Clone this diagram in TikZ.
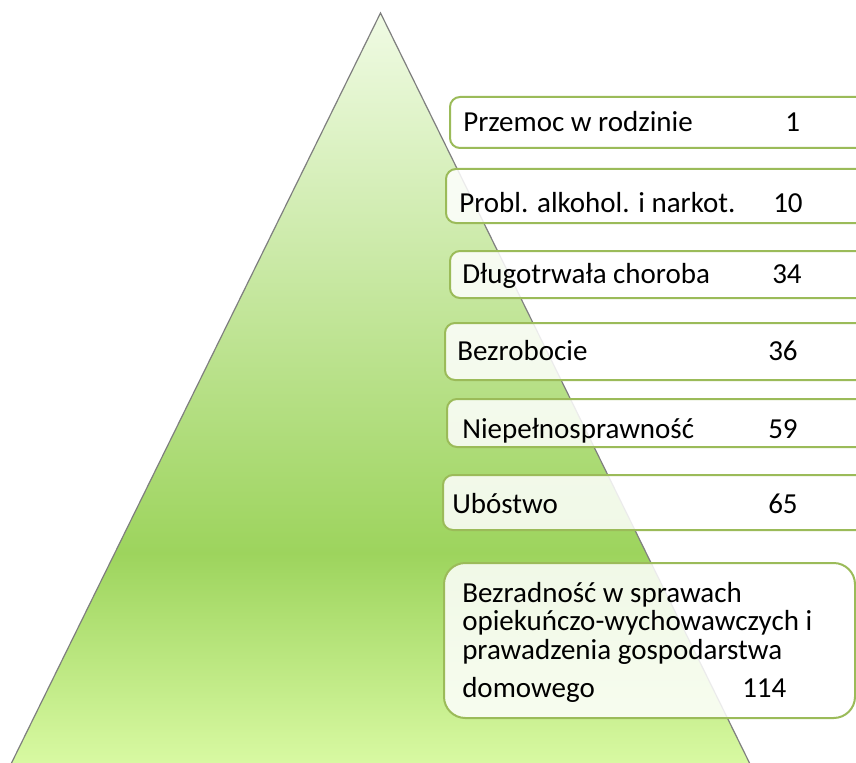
\documentclass[tikz,border=0pt]{standalone}
\usepackage{fontspec}
\setmainfont{Carlito}
\usepackage{tikz}
\usetikzlibrary{fit}
\definecolor{pyrtop}{HTML}{F0FBE4}
\definecolor{pyrmid}{HTML}{9DD45D}
\definecolor{pyrbot}{HTML}{D8F9A2}
\definecolor{boxgreen}{HTML}{9BBB59}
\definecolor{edgegray}{HTML}{7F7F7F}
\pgfdeclareverticalshading{pyramid}{100bp}{color(0bp)=(pyrbot); color(25bp)=(pyrbot); color(39bp)=(pyrmid); color(75bp)=(pyrtop); color(100bp)=(pyrtop)}
\pgfdeclarelayer{nodelayer}
\pgfdeclarelayer{edgelayer}
\pgfsetlayers{edgelayer,nodelayer,main}
\tikzstyle{none}=[inner sep=0pt]
\tikzset{box/.style={draw=boxgreen, line width=1.5pt, fill=white, fill opacity=0.85,
rounded corners=7.5pt, inner sep=0pt}}
\tikzset{bigbox/.style={box, rounded corners=16pt}}
\tikzset{txt/.style={inner sep=0pt, anchor=base west, font=\fontsize{21.75}{26}\selectfont}}
\tikzset{side/.style={draw=edgegray, line width=0.9pt}}

\begin{document}
\begin{tikzpicture}[x=0.75pt, y=-0.75pt]
			\useasboundingbox (0,0) rectangle (856,763);
			\clip (0,0) rectangle (856,763);
			\begin{pgfonlayer}{edgelayer}
				\node [style=none] (0) at (380.5, 13) {};
				\node [style=none] (1) at (11.5, 763) {};
				\node [style=none] (2) at (749.5, 763) {};
				\shade [shading=pyramid] (0.center) to (1.center) to (2.center) to cycle;
				\draw [style=side] (1.center) to (0.center) to (2.center);
			\end{pgfonlayer}
			\begin{pgfonlayer}{nodelayer}
				\node [style=box, fit={(450, 97) (880, 148)}] (3) {};
				\node [style=box, fit={(446, 169) (880, 223)}] (4) {};
				\node [style=box, fit={(450, 251) (880, 298)}] (5) {};
				\node [style=box, fit={(445, 323) (880, 380)}] (6) {};
				\node [style=box, fit={(447, 399) (880, 447)}] (7) {};
				\node [style=box, fit={(443, 475) (880, 530)}] (8) {};
				\node [style=bigbox, fit={(444, 563) (855, 718)}] (9) {};
				\node [style=txt] (10) at (463, 132) {Przemoc w rodzinie};
				\node [style=txt] (11) at (785, 132) {1};
				\node [style=txt] (12) at (459, 212) {Probl. alkohol. i narkot.};
				\node [style=txt] (13) at (773, 212) {10};
				\node [style=txt] (14) at (462, 283) {Długotrwała choroba};
				\node [style=txt] (15) at (772, 283) {34};
				\node [style=txt] (16) at (457, 360) {Bezrobocie};
				\node [style=txt] (17) at (768, 360) {36};
				\node [style=txt] (18) at (462, 438) {Niepełnosprawność};
				\node [style=txt] (19) at (768, 438) {59};
				\node [style=txt] (20) at (452, 513) {Ubóstwo};
				\node [style=txt] (21) at (768, 513) {65};
				\node [style=txt] (22) at (462, 602) {Bezradność w sprawach};
				\node [style=txt] (23) at (462, 630) {opiekuńczo-wychowawczych i};
				\node [style=txt] (24) at (462, 659) {prawadzenia gospodarstwa};
				\node [style=txt] (25) at (462, 697) {domowego};
				\node [style=txt] (26) at (742, 697) {114};
			\end{pgfonlayer}
		\end{tikzpicture}
\end{document}
